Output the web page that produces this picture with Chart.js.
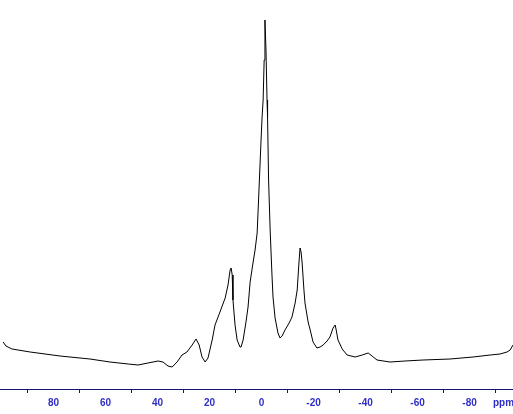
<!DOCTYPE html>
<html>
<head>
<meta charset="utf-8">
<script src="https://cdn.jsdelivr.net/npm/chart.js@4/dist/chart.umd.min.js"></script>
<style>
  html, body { margin: 0; padding: 0; background: #fff; }
</style>
</head>
<body>
<canvas id="spectrum" width="513" height="414"></canvas>
<script>
// chemical shift (ppm) and intensity
const ppm = [
  99.4, 98.3, 96.0, 89.0, 77.5, 66.0, 58.3, 51.3, 47.5, 43.7,
  39.8, 37.9, 36.0, 34.4, 32.5, 30.6, 28.7, 26.7, 25.2, 24.0,
  22.9, 21.7, 20.6, 19.0, 17.9, 16.0, 14.0, 12.9, 12.1, 11.7,
  11.3, 11.0, 10.2, 9.4, 8.3, 7.9, 7.1, 6.0, 5.2, 4.4,
  3.3, 2.5, 1.7, 1.0, 0.2, -0.2, -0.6, -1.0, -1.3, -1.7,
  -2.1, -2.3, -2.7, -3.3, -4.0, -4.4, -5.2, -6.3, -7.1, -7.9,
  -9.0, -10.6, -11.7, -12.9, -13.7, -14.4, -14.8, -15.2, -15.6, -16.3,
  -16.7, -17.9, -18.7, -19.8, -21.3, -22.5, -23.7, -25.2, -26.3, -27.5,
  -28.3, -28.7, -29.4, -31.0, -32.9, -36.0, -38.7, -41.0, -42.5, -44.4,
  -49.4, -55.2, -62.1, -72.5, -81.3, -87.9, -91.7, -94.4, -95.6, -96.7
];
const intensity = [
  47, 43, 40, 37, 33, 30, 27, 25, 24, 26,
  28, 27, 23, 22, 27, 34, 37, 44, 50, 44,
  32, 27, 31, 49, 64, 77, 91, 104, 119, 121,
  114, 89, 64, 49, 42, 42, 49, 67, 82, 107,
  126, 139, 156, 199, 249, 272, 289, 329, 369, 339,
  289, 272, 209, 159, 114, 92, 71, 56, 51, 53,
  59, 66, 72, 86, 99, 127, 141, 137, 126, 99,
  86, 67, 59, 47, 41, 42, 44, 48, 52, 61,
  64, 59, 49, 40, 34, 32, 34, 36, 33, 29,
  27, 28, 29, 30, 32, 34, 35, 37, 39, 44
];
const tickValues = [90, 80, 70, 60, 50, 40, 30, 20, 10, 0, -10, -20, -30, -40, -50, -60, -70, -80, -90];

const axisBlue = "#141470";
const labelBlue = "#2f2fc8";

const ppmLabel = {
  id: "ppmLabel",
  afterDraw(chart) {
    const ctx = chart.ctx;
    ctx.save();
    ctx.font = "bold 10px 'Liberation Sans', Arial, sans-serif";
    ctx.fillStyle = labelBlue;
    ctx.textAlign = "left";
    ctx.textBaseline = "middle";
    ctx.fillText("ppm", 493, 403);
    ctx.restore();
  }
};

new Chart(document.getElementById("spectrum"), {
  type: "line",
  data: {
    datasets: [{
      data: ppm.map((v, i) => ({ x: v, y: intensity[i] })),
      borderColor: "#000",
      borderWidth: 1,
      pointRadius: 0,
      tension: 0,
      fill: false
    }]
  },
  options: {
    responsive: false,
    animation: false,
    layout: { padding: 0 },
    plugins: {
      legend: { display: false },
      tooltip: { enabled: false }
    },
    scales: {
      x: {
        type: "linear",
        reverse: true,
        min: -96.7,
        max: 100.6,
        afterBuildTicks: (scale) => {
          scale.ticks = tickValues.map(v => ({ value: v }));
        },
        afterFit: (scale) => {
          scale.height = 25;
        },
        border: { color: axisBlue, width: 1 },
        grid: {
          drawOnChartArea: false,
          tickLength: 4,
          color: (ctx) => (ctx.tick && ctx.tick.value % 20 === 0) ? "rgba(0,0,0,0)" : axisBlue
        },
        ticks: {
          autoSkip: false,
          maxRotation: 0,
          padding: 4,
          color: labelBlue,
          font: { family: "'Liberation Sans', Arial, sans-serif", size: 10, weight: "bold" },
          callback: (v) => (v % 20 === 0 ? String(v) : "")
        }
      },
      y: {
        display: false,
        min: 0,
        max: 389
      }
    }
  },
  plugins: [ppmLabel]
});
</script>
</body>
</html>
